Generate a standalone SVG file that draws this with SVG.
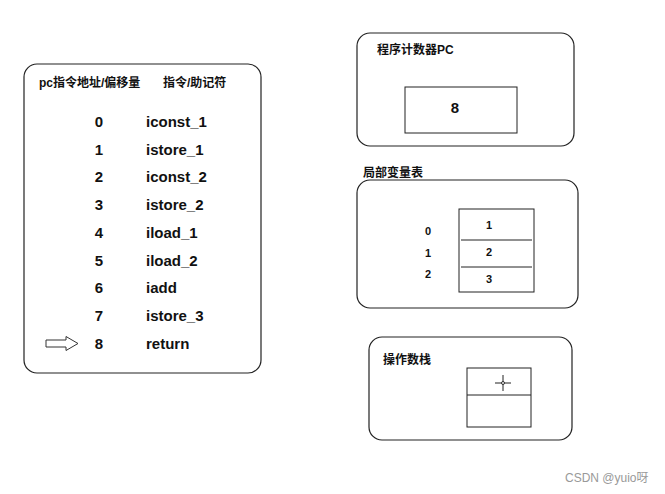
<svg xmlns="http://www.w3.org/2000/svg" width="665" height="494" viewBox="0 0 665 494">
<style>
.box{fill:#fff;stroke:#222;stroke-width:1.2}
.cell{fill:#fff;stroke:#222;stroke-width:1}
.hd{font-family:"Liberation Sans","Noto Sans CJK SC",sans-serif;font-size:12px;font-weight:bold;fill:#111}
.num{font-family:"Liberation Sans",sans-serif;font-size:15px;font-weight:bold;fill:#111}
.ins{font-family:"Liberation Sans",sans-serif;font-size:15px;font-weight:bold;fill:#111}
.sm{font-family:"Liberation Sans",sans-serif;font-size:11px;font-weight:bold;fill:#111}
.wm{font-family:"Liberation Sans","Noto Sans CJK SC",sans-serif;font-size:12px;fill:#999}
</style>
<rect width="665" height="494" fill="#fff"/>
<g id="code">
<rect class="box" x="24" y="64" width="237" height="309" rx="13"/>
<text class="hd" x="39" y="87">pc指令地址/偏移量</text>
<text class="hd" x="163" y="87">指令/助记符</text>
<g class="num" text-anchor="middle">
<text x="99" y="127">0</text><text x="99" y="155">1</text><text x="99" y="182">2</text>
<text x="99" y="210">3</text><text x="99" y="238">4</text><text x="99" y="266">5</text>
<text x="99" y="293">6</text><text x="99" y="321">7</text><text x="99" y="349">8</text>
</g>
<g class="ins">
<text x="146" y="127">iconst_1</text><text x="146" y="155">istore_1</text><text x="146" y="182">iconst_2</text>
<text x="146" y="210">istore_2</text><text x="146" y="238">iload_1</text><text x="146" y="266">iload_2</text>
<text x="146" y="293">iadd</text><text x="146" y="321">istore_3</text><text x="146" y="349">return</text>
</g>
<polygon points="46,340 66,340 66,336.5 78,343.5 66,350.5 66,347 46,347" fill="#fff" stroke="#333" stroke-width="1"/>
</g>
<g id="pc">
<rect class="box" x="357" y="33" width="217" height="113" rx="13"/>
<text class="hd" x="377" y="54">程序计数器PC</text>
<rect class="cell" x="405" y="87" width="112" height="46"/>
<text class="num" x="455" y="113" text-anchor="middle">8</text>
</g>
<g id="locals">
<text class="hd" x="363" y="177">局部变量表</text>
<rect class="box" x="357" y="180" width="221" height="128" rx="13"/>
<rect class="cell" x="459" y="209" width="75" height="83"/>
<line x1="461" y1="240" x2="532" y2="240" stroke="#222"/>
<line x1="461" y1="267" x2="532" y2="267" stroke="#222"/>
<g class="sm" text-anchor="middle">
<text x="489" y="229">1</text><text x="489" y="256">2</text><text x="489" y="283">3</text>
<text x="428" y="235">0</text><text x="428" y="257">1</text><text x="428" y="278">2</text>
</g>
</g>
<g id="stack">
<rect class="box" x="369" y="337" width="203" height="103" rx="13"/>
<text class="hd" x="383" y="364">操作数栈</text>
<rect class="cell" x="467" y="368" width="64" height="59"/>
<line x1="467" y1="395" x2="531" y2="395" stroke="#222"/>
<g stroke="#222" stroke-width="1">
<line x1="495" y1="383" x2="501" y2="383"/><line x1="505" y1="383" x2="511" y2="383"/>
<line x1="503" y1="375" x2="503" y2="381"/><line x1="503" y1="385" x2="503" y2="391"/>
<circle cx="503" cy="383" r="1.5" fill="none"/>
</g>
</g>
<g id="connectors"></g>
<text class="wm" x="565" y="482">CSDN @yuio呀</text>
</svg>
